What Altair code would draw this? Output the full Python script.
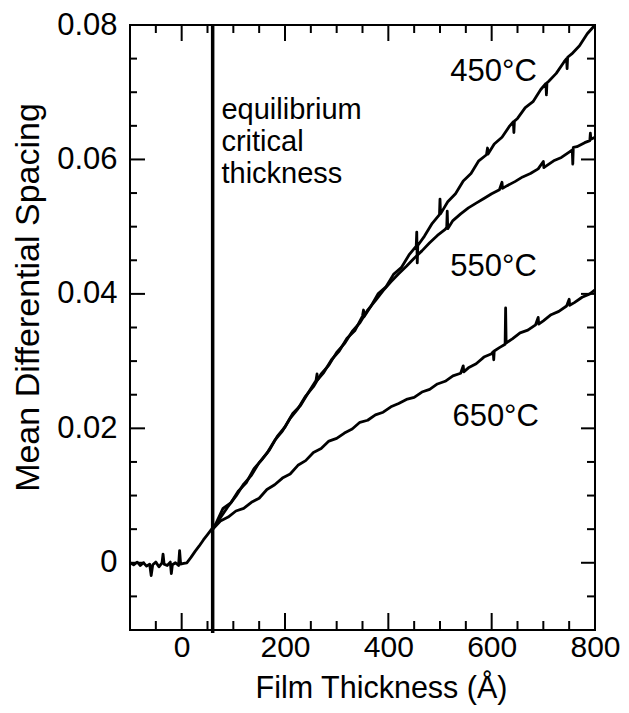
import altair as alt
import pandas as pd

# ---------------- data ----------------
x_domain = [-100, 800]
y_domain = [-0.01, 0.08]

x_major = [0, 200, 400, 600, 800]
x_minor = [-50, 50, 100, 150, 250, 300, 350, 450, 500, 550, 650, 700, 750]
y_major = [0, 0.02, 0.04, 0.06, 0.08]
y_minor = [-0.005, 0.005, 0.01, 0.015, 0.025, 0.03, 0.035, 0.045, 0.05, 0.055,
           0.065, 0.07, 0.075]

critical_x = [60]

# common flat/onset part (drawn with the 450 C trace)
lead_x = [-100, -93, -86, -80, -74, -68, -62, -59, -56, -50, -44, -38, -36, -34,
          -28, -22, -20, -18, -12, -6, -4, -2, 4, 10, 18, 26, 34, 42, 50, 58, 66]
lead_y = [0.0000, -0.0003, 0.0001, -0.0004, 0.0000, -0.0005, -0.0002, -0.0019,
          -0.0003, 0.0001, -0.0006, 0.0000, 0.0013, -0.0002, -0.0004, 0.0001,
          -0.0016, -0.0003, 0.0000, -0.0004, 0.0018, -0.0002, -0.0001, 0.0000,
          0.0008, 0.0017, 0.0025, 0.0034, 0.0042, 0.0050, 0.0058]

x450 = [80, 95, 110, 125, 140, 155, 170, 185, 200, 215, 230, 245, 260, 262, 263,
        275, 290, 305, 320, 335, 350, 352, 353, 365, 380, 395, 410, 425, 440, 454,
        455, 456, 457, 470, 485, 499, 500, 501, 515, 530, 545, 560, 575, 590, 592,
        593, 605, 620, 635, 642, 643, 644, 650, 665, 680, 695, 705, 706, 707, 710,
        725, 740, 745, 746, 747, 755, 770, 785, 800]
y450 = [0.0081, 0.0089, 0.0107, 0.0119, 0.0140, 0.0153, 0.0168, 0.0188, 0.0202,
        0.0222, 0.0234, 0.0253, 0.0271, 0.0281, 0.0272, 0.0283, 0.0302, 0.0315,
        0.0334, 0.0345, 0.0367, 0.0376, 0.0366, 0.0380, 0.0400, 0.0410, 0.0429,
        0.0439, 0.0458, 0.0471, 0.0492, 0.0446, 0.0472, 0.0486, 0.0505, 0.0518,
        0.0541, 0.0519, 0.0537, 0.0549, 0.0568, 0.0579, 0.0598, 0.0607, 0.0617,
        0.0608, 0.0623, 0.0633, 0.0650, 0.0656, 0.0640, 0.0657, 0.0661, 0.0677,
        0.0686, 0.0704, 0.0713, 0.0696, 0.0714, 0.0716, 0.0728, 0.0745, 0.0750,
        0.0735, 0.0752, 0.0757, 0.0769, 0.0787, 0.0800]

x550 = [60, 75, 90, 105, 120, 135, 150, 165, 180, 195, 210, 225, 240, 255, 270,
        285, 300, 315, 330, 345, 360, 375, 390, 405, 420, 435, 450, 465, 480, 495,
        510, 513, 514, 515, 525, 540, 555, 570, 585, 600, 615, 620, 621, 630, 645,
        660, 675, 690, 700, 701, 705, 720, 735, 750, 756, 757, 758, 765, 780, 790,
        791, 792, 800]
y550 = [0.0050, 0.0067, 0.0084, 0.0099, 0.0117, 0.0130, 0.0149, 0.0163, 0.0182,
        0.0196, 0.0215, 0.0229, 0.0248, 0.0262, 0.0281, 0.0294, 0.0313, 0.0326,
        0.0344, 0.0357, 0.0376, 0.0390, 0.0405, 0.0418, 0.0430, 0.0441, 0.0453,
        0.0464, 0.0476, 0.0487, 0.0496, 0.0499, 0.0523, 0.0497, 0.0509, 0.0519,
        0.0528, 0.0535, 0.0542, 0.0549, 0.0555, 0.0566, 0.0557, 0.0561, 0.0567,
        0.0574, 0.0579, 0.0586, 0.0597, 0.0588, 0.0590, 0.0598, 0.0603, 0.0611,
        0.0614, 0.0593, 0.0618, 0.0619, 0.0625, 0.0628, 0.0639, 0.0630, 0.0633]

x650 = [60, 75, 90, 105, 120, 135, 150, 165, 180, 195, 210, 225, 240, 255, 270,
        285, 300, 315, 330, 345, 360, 375, 390, 405, 420, 435, 450, 465, 480, 495,
        510, 525, 540, 545, 546, 555, 570, 585, 600, 603, 604, 605, 615, 626, 627,
        628, 640, 655, 670, 685, 690, 691, 700, 715, 730, 745, 750, 751, 760, 775,
        790, 800]
y650 = [0.0050, 0.0062, 0.0068, 0.0077, 0.0081, 0.0090, 0.0096, 0.0109, 0.0116,
        0.0126, 0.0132, 0.0145, 0.0152, 0.0164, 0.0170, 0.0181, 0.0185, 0.0193,
        0.0199, 0.0209, 0.0212, 0.0220, 0.0224, 0.0232, 0.0237, 0.0243, 0.0246,
        0.0254, 0.0258, 0.0266, 0.0270, 0.0278, 0.0282, 0.0293, 0.0284, 0.0290,
        0.0296, 0.0306, 0.0311, 0.0314, 0.0302, 0.0315, 0.0320, 0.0325, 0.0379,
        0.0327, 0.0333, 0.0342, 0.0346, 0.0354, 0.0365, 0.0355, 0.0360, 0.0369,
        0.0374, 0.0382, 0.0392, 0.0383, 0.0387, 0.0395, 0.0400, 0.0406]

series_names = ["450°C", "550°C", "650°C"]
label_x = [520, 520, 524]
label_y = [0.0717, 0.0426, 0.0204]

annotation_text = ["equilibrium\ncritical\nthickness"]
annotation_x = [77]
annotation_y = [0.066]

# ---------------- build tables ----------------
rows = []
for name, xs_, ys_ in [(series_names[0], lead_x + x450, lead_y + y450),
                       (series_names[1], x550, y550),
                       (series_names[2], x650, y650)]:
    assert len(xs_) == len(ys_), name
    for i, (a, b) in enumerate(zip(xs_, ys_)):
        rows.append({"series": name, "x": a, "y": b, "i": i})
curves = pd.DataFrame(rows)
labels = pd.DataFrame({"x": label_x, "y": label_y, "t": series_names})
annot = pd.DataFrame({"x": annotation_x, "y": annotation_y, "t": annotation_text})

W, H = 465, 605
FONT = "Liberation Sans"

xsc = alt.Scale(domain=x_domain, nice=False, zero=False)
ysc = alt.Scale(domain=y_domain, nice=False, zero=False)

x_axis = alt.Axis(values=x_major, format="d", title="Film Thickness (Å)",
                  labelFont=FONT, labelFontSize=30, labelColor="black",
                  titleFont=FONT, titleFontSize=30.5, titleFontWeight="normal",
                  titleColor="black", labelPadding=2, titlePadding=11,
                  titleX=251, titleAnchor="start", titleAlign="center",
                  ticks=False, tickSize=0, domain=False, grid=False,
                  labelFlush=False)
y_axis = alt.Axis(values=y_major,
                  labelExpr="datum.value == 0 ? '0' : format(datum.value, '.2f')",
                  title="Mean Differential Spacing",
                  labelFont=FONT, labelFontSize=31, labelColor="black",
                  titleFont=FONT, titleFontSize=34, titleFontWeight="normal",
                  titleColor="black", labelPadding=13, titlePadding=11,
                  titleY=272, titleAnchor="start", titleAlign="center",
                  ticks=False, tickSize=0, domain=False, grid=False,
                  labelFlush=False)


def X(field):
    return alt.X(field, scale=xsc, axis=x_axis)


def Y(field):
    return alt.Y(field, scale=ysc, axis=y_axis)


curve_layer = alt.Chart(curves).mark_line(color="black", strokeWidth=2.8,
                                          strokeJoin="round").encode(
    x=X("x:Q"), y=Y("y:Q"), detail="series:N", order="i:Q")

crit_layer = alt.Chart(pd.DataFrame({"x": critical_x})).mark_rule(
    color="black", strokeWidth=3.5).encode(
    x=X("x:Q"), y=alt.value(0), y2=alt.value(H + 3))


def xticks(vals, length, top):
    c = alt.Chart(pd.DataFrame({"v": vals})).mark_rule(color="black", strokeWidth=2)
    if top:
        return c.encode(x=X("v:Q"), y=alt.value(0), y2=alt.value(length))
    return c.encode(x=X("v:Q"), y=alt.value(H), y2=alt.value(H - length))


def yticks(vals, length, right):
    c = alt.Chart(pd.DataFrame({"v": vals})).mark_rule(color="black", strokeWidth=2)
    if right:
        return c.encode(y=Y("v:Q"), x=alt.value(W), x2=alt.value(W - length))
    return c.encode(y=Y("v:Q"), x=alt.value(0), x2=alt.value(length))


tick_layers = [
    xticks(x_major, 17, False), xticks(x_minor, 9, False),
    xticks(x_major, 16, True), xticks(x_minor, 8, True),
    yticks(y_major, 15, False), yticks(y_minor, 7, False),
    yticks(y_major, 14, True), yticks(y_minor, 8, True),
]

label_layer = alt.Chart(labels).mark_text(
    align="left", baseline="alphabetic", font=FONT, fontSize=31, color="black"
).encode(x=X("x:Q"), y=Y("y:Q"), text="t:N")

annot_layer = alt.Chart(annot).mark_text(
    align="left", baseline="alphabetic", font=FONT, fontSize=29, color="black",
    lineBreak="\n", lineHeight=31.7
).encode(x=X("x:Q"), y=Y("y:Q"), text="t:N")

chart = alt.layer(curve_layer, crit_layer, *tick_layers, label_layer, annot_layer).properties(
    width=W, height=H,
    autosize=alt.AutoSizeParams(type="none"),
    padding={"left": 122, "top": 17, "right": 26, "bottom": 75},
    background="white",
).configure_view(stroke="black", strokeWidth=2)

chart.save("out.html", embed_options={"renderer": "svg", "actions": False})
